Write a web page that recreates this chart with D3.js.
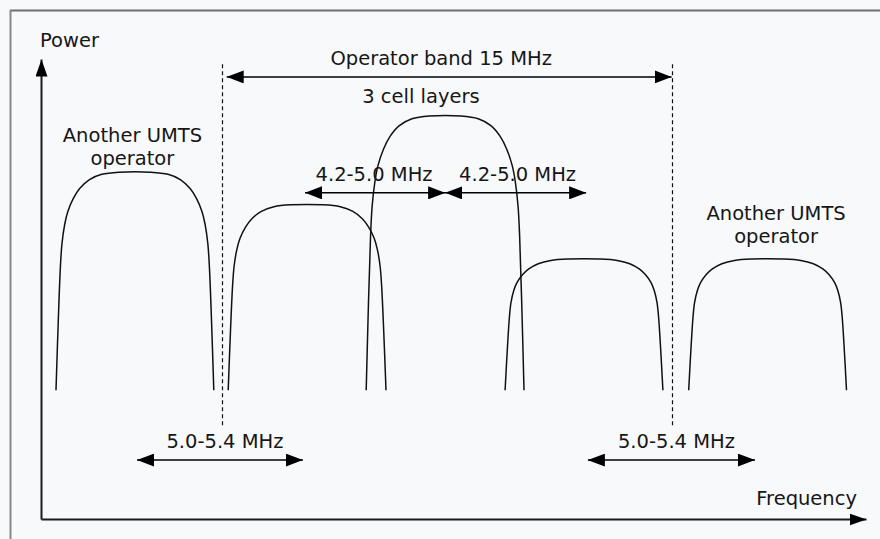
<!DOCTYPE html>
<html>
<head>
<meta charset="utf-8">
<script src="https://cdn.jsdelivr.net/npm/d3@7"></script>
<style>
  html, body { margin: 0; padding: 0; background: #f8f9fb; }
  svg { display: block; }
  text { font-family: "DejaVu Sans", sans-serif; font-size: 19.5px; fill: #161616; }
</style>
</head>
<body>
<svg id="chart"></svg>
<script>
// carriers: centre frequency (MHz) and peak power (relative units)
const carrierNames = ["other-left", "cell-1", "cell-2", "cell-3", "other-right"];
const carrierCenters = [3.13, 8.87, 13.47, 18.1, 24.22];
const carrierPeaks = [75.4, 68.3, 87.6, 56.5, 56.5];
const carrierFloor = 28;
const carrierHalfWidth = 2.63;

// normalised carrier outline (offset from centre / half width, level / peak)
const profileU = [-1, -0.97, -0.945, -0.925, -0.89, -0.85, -0.78, -0.7, -0.58, -0.42, -0.2,
                  0.2, 0.42, 0.58, 0.7, 0.78, 0.85, 0.89, 0.925, 0.945, 0.97, 1];
const profileV = [0, 0.33, 0.56, 0.67, 0.76, 0.82, 0.88, 0.925, 0.965, 0.99, 1,
                  1, 0.99, 0.965, 0.925, 0.88, 0.82, 0.76, 0.67, 0.56, 0.33, 0];

// operator band edges (MHz) and the dashed marker extent
const bandEdges = [6.05, 21.05];
const bandMarkerLevels = [20.4, 99.1];

// spacing arrows
const arrowLabels = ["Operator band 15 MHz", "4.2-5.0 MHz", "4.2-5.0 MHz", "5.0-5.4 MHz", "5.0-5.4 MHz"];
const arrowFrom = [6.19, 8.8, 13.47, 3.2, 18.23];
const arrowTo = [21.02, 13.47, 18.17, 8.73, 23.8];
const arrowLevel = [96.1, 70.9, 70.9, 12.8, 12.8];

const width = 880, height = 539;

const svg = d3.select("#chart")
    .attr("width", width)
    .attr("height", height);

// frame (top and left edge only, as in the scan)
svg.append("line")
    .attr("x1", 10).attr("x2", width).attr("y1", 10.5).attr("y2", 10.5)
    .attr("stroke", "#6e6e6e").attr("stroke-width", 2);
svg.append("line")
    .attr("x1", 10.5).attr("x2", 10.5).attr("y1", 10).attr("y2", height)
    .attr("stroke", "#888").attr("stroke-width", 2);

var x = d3.scaleLinear().domain([0, 27.5]).range([41, 866]);
var y = d3.scaleLinear().domain([0, 100]).range([519, 59]);

// arrow heads
var defs = svg.append("defs");
function head(id, len, wid) {
    defs.append("marker")
        .attr("id", id)
        .attr("viewBox", "0 0 " + len + " " + wid)
        .attr("refX", len).attr("refY", wid / 2)
        .attr("markerUnits", "userSpaceOnUse")
        .attr("markerWidth", len).attr("markerHeight", wid)
        .attr("orient", "auto-start-reverse")
      .append("path")
        .attr("d", "M0,0L" + len + "," + (wid / 2) + "L0," + wid + "Z")
        .attr("fill", "#000");
}
head("axisHead", 17, 12);
head("dimHead", 17, 13);

// axes: no ticks, just the arrowed lines
var xAxis = svg.append("g")
    .attr("transform", "translate(0," + y(0) + ")")
    .call(d3.axisBottom(x).tickValues([]).tickSizeOuter(0));
var yAxis = svg.append("g")
    .attr("transform", "translate(" + x(0) + ",0)")
    .call(d3.axisLeft(y).tickValues([]).tickSizeOuter(0));
[xAxis, yAxis].forEach(g => {
    g.select(".domain")
        .attr("stroke", "#1c1c1c")
        .attr("stroke-width", 2)
        .attr("marker-end", "url(#axisHead)");
});

svg.append("text").attr("x", 40).attr("y", 47).text("Power");
svg.append("text").attr("x", 857).attr("y", 505)
    .attr("text-anchor", "end").text("Frequency");

// dashed band edges
svg.selectAll(".band-edge")
    .data(bandEdges)
  .enter().append("line")
    .attr("class", "band-edge")
    .attr("x1", d => x(d)).attr("x2", d => x(d))
    .attr("y1", y(bandMarkerLevels[0])).attr("y2", y(bandMarkerLevels[1]))
    .attr("stroke", "#111").attr("stroke-width", 1.2)
    .attr("stroke-dasharray", "4,3");

// carrier outlines
var carrierLine = d3.line()
    .x(d => d[0]).y(d => d[1])
    .curve(d3.curveCatmullRom.alpha(0.5));

svg.selectAll(".carrier")
    .data(carrierCenters.map((c, i) => ({name: carrierNames[i], center: c, peak: carrierPeaks[i]})))
  .enter().append("path")
    .attr("class", "carrier")
    .attr("id", d => d.name)
    .attr("fill", "none")
    .attr("stroke", "#111")
    .attr("stroke-width", 1.5)
    .attr("d", d => carrierLine(profileU.map((u, k) => [
        x(d.center + u * carrierHalfWidth),
        y(carrierFloor + profileV[k] * (d.peak - carrierFloor))
    ])));

// spacing arrows with their labels
var arrows = svg.selectAll(".spacing")
    .data(arrowLabels.map((label, i) => ({label: label, from: arrowFrom[i], to: arrowTo[i], level: arrowLevel[i]})))
  .enter().append("g")
    .attr("class", "spacing");

arrows.append("line")
    .attr("x1", d => x(d.from)).attr("x2", d => x(d.to))
    .attr("y1", d => y(d.level)).attr("y2", d => y(d.level))
    .attr("stroke", "#000").attr("stroke-width", 1.5)
    .attr("marker-start", "url(#dimHead)")
    .attr("marker-end", "url(#dimHead)");

arrows.append("text")
    .attr("x", (d, i) => (x(d.from) + x(d.to)) / 2 + [-8, -1, 2, 5, 5][i])
    .attr("y", d => y(d.level) - 12)
    .attr("text-anchor", "middle")
    .text(d => d.label);

svg.append("text").attr("x", 421).attr("y", 103)
    .attr("text-anchor", "middle").text("3 cell layers");

// neighbouring operators, two lines each
[[x(carrierCenters[0]) - 2.5, 142], [x(carrierCenters[4]) + 8.5, 220]].forEach(p => {
    svg.append("text")
        .attr("x", p[0]).attr("y", p[1])
        .attr("text-anchor", "middle")
        .text("Another UMTS");
    svg.append("text")
        .attr("x", p[0]).attr("y", p[1] + 22.5)
        .attr("text-anchor", "middle")
        .text("operator");
});
</script>
</body>
</html>
